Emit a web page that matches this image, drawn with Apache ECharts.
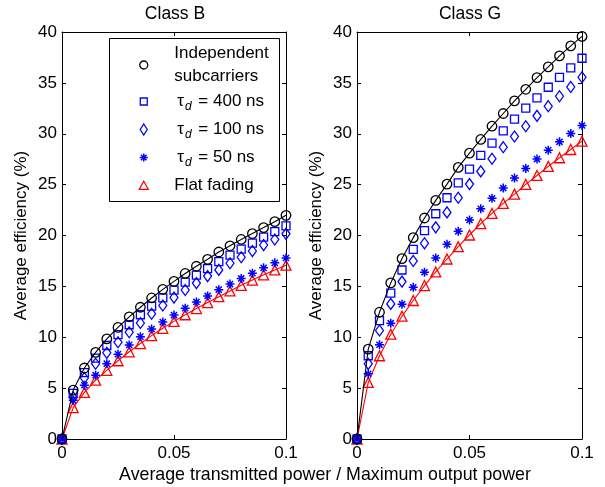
<!DOCTYPE html>
<html>
<head>
<meta charset="utf-8">
<script src="https://cdn.jsdelivr.net/npm/echarts@6/dist/echarts.min.js"></script>
<style>html,body{margin:0;padding:0;background:#fff;}#c{width:605px;height:487px;}</style>
</head>
<body>
<div id="c"></div>
<script>
const xs = [0, 0.005, 0.01, 0.015, 0.02, 0.025, 0.03, 0.035, 0.04, 0.045, 0.05, 0.055, 0.06, 0.065, 0.07, 0.075, 0.08, 0.085, 0.09, 0.095, 0.1];
const seriesNames = ['Independent subcarriers', 'τd = 400 ns', 'τd = 100 ns', 'τd = 50 ns', 'Flat fading'];
const panelTitles = ['Class B', 'Class G'];
const xLabel = 'Average transmitted power / Maximum output power';
const yLabel = 'Average efficiency (%)';

// Class B
const bIndep = [0, 4.81, 6.98, 8.51, 9.84, 10.97, 12.01, 12.95, 13.86, 14.71, 15.49, 16.27, 16.98, 17.66, 18.38, 18.99, 19.61, 20.19, 20.78, 21.36, 21.98];
const b400 = [0, 4.48, 6.53, 7.95, 9.19, 10.26, 11.23, 12.21, 13.05, 13.86, 14.64, 15.42, 16.10, 16.75, 17.44, 18.08, 18.67, 19.25, 19.84, 20.39, 20.94];
const b100 = [0, 4.09, 6.00, 7.40, 8.47, 9.51, 10.49, 11.40, 12.31, 13.12, 13.90, 14.64, 15.32, 16.01, 16.62, 17.27, 17.86, 18.47, 19.06, 19.61, 20.16];
const b50 = [0, 3.8, 5.29, 6.27, 7.40, 8.34, 9.25, 10.06, 10.81, 11.49, 12.18, 12.86, 13.47, 14.06, 14.68, 15.23, 15.78, 16.30, 16.82, 17.31, 17.79];
const bFlat = [0, 3.08, 4.58, 5.78, 6.75, 7.69, 8.57, 9.38, 10.16, 10.88, 11.56, 12.21, 12.82, 13.41, 13.99, 14.55, 15.10, 15.62, 16.14, 16.62, 17.08];

// Class G
const gIndep = [0, 8.83, 12.46, 15.34, 17.73, 19.79, 21.72, 23.45, 25.05, 26.69, 28.09, 29.44, 30.74, 31.99, 33.23, 34.37, 35.52, 36.57, 37.65, 38.63, 39.57];
const g400 = [0, 8.18, 11.64, 14.33, 16.61, 18.64, 20.47, 22.14, 23.71, 25.18, 26.52, 27.87, 29.08, 30.29, 31.43, 32.51, 33.52, 34.57, 35.55, 36.47, 37.42];
const g100 = [0, 7.39, 10.66, 13.28, 15.47, 17.50, 19.23, 20.80, 22.27, 23.71, 25.05, 26.30, 27.54, 28.68, 29.73, 30.74, 31.76, 32.71, 33.69, 34.60, 35.55];
const g50 = [0, 6.41, 9.26, 11.38, 13.25, 14.91, 16.39, 17.79, 19.13, 20.41, 21.52, 22.63, 23.65, 24.66, 25.64, 26.59, 27.51, 28.39, 29.21, 30.02, 30.81];
const gFlat = [0, 5.56, 8.18, 10.30, 12.07, 13.61, 15.08, 16.42, 17.69, 18.90, 20.05, 21.16, 22.17, 23.16, 24.07, 25.02, 25.90, 26.79, 27.64, 28.45, 29.27];

const FONT = 'Liberation Sans, Arial, Helvetica, sans-serif';
const FS = 17;
const BLUE = '#0000ff', RED = '#ff0000', BLACK = '#000000';
const NOFILL = 'rgba(0,0,0,0)';
const ASTER = 'path://M5,0L5,10M0,5L10,5M1.6,1.6L8.4,8.4M1.6,8.4L8.4,1.6';
const DIAM = 'path://M5,0L10,7L5,14L0,7Z';

const styles = [
  {symbol: 'circle', size: 9.5, color: BLACK, line: true, bw: 1.3},
  {symbol: 'rect', size: 8, color: BLUE, line: false, bw: 1.3},
  {symbol: DIAM, size: [8, 11], color: BLUE, line: false, bw: 1.3},
  {symbol: ASTER, size: 9, color: BLUE, line: false, bw: 1.5},
  {symbol: 'triangle', size: 10, color: RED, line: true, bw: 1.3}
];

function pairs(ys) { return xs.map((x, i) => [x, ys[i]]); }

const panels = [[bIndep, b400, b100, b50, bFlat], [gIndep, g400, g100, g50, gFlat]];
const series = [];
panels.forEach((sets, g) => {
  sets.forEach((ys, k) => {
    const st = styles[k];
    series.push({
      name: seriesNames[k],
      type: 'line',
      xAxisIndex: g * 2,
      yAxisIndex: g * 2,
      data: pairs(ys),
      symbol: st.symbol,
      symbolSize: st.size,
      showSymbol: true,
      clip: false,
      z: 2 + (4 - k),
      itemStyle: {color: NOFILL, borderColor: st.color, borderWidth: st.bw},
      lineStyle: {color: st.color, width: st.line ? 1.1 : 0, opacity: st.line ? 1 : 0},
      emphasis: {disabled: true},
      silent: true
    });
  });
});

function xAx(grid, pos, labels) {
  return {
    type: 'value', gridIndex: grid, position: pos, min: 0, max: 0.1, interval: 0.05,
    axisLine: {show: true, onZero: false, lineStyle: {color: BLACK, width: 1}},
    axisTick: {show: true, inside: true, length: 4, lineStyle: {color: BLACK}},
    axisLabel: {show: labels, color: BLACK, fontFamily: FONT, fontSize: FS, margin: 6,
      formatter: v => (v === 0 ? '0' : String(+v.toFixed(3)))},
    splitLine: {show: false}
  };
}
function yAx(grid, pos, labels) {
  const a = {
    type: 'value', gridIndex: grid, position: pos, min: 0, max: 40, interval: 5,
    axisLine: {show: true, onZero: false, lineStyle: {color: BLACK, width: 1}},
    axisTick: {show: true, inside: true, length: 4, lineStyle: {color: BLACK}},
    axisLabel: {show: labels, color: BLACK, fontFamily: FONT, fontSize: FS, margin: 5},
    splitLine: {show: false}
  };
  if (labels) {
    a.name = yLabel;
    a.nameLocation = 'middle';
    a.nameGap = 32;
    a.nameTextStyle = {color: BLACK, fontFamily: FONT, fontSize: FS};
  }
  return a;
}

const legendText = {
  'Independent subcarriers': '{p|Independent}\n{p|subcarriers}',
  'τd = 400 ns': '{q|τ}{s|d}{a| = 400 ns}',
  'τd = 100 ns': '{q|τ}{s|d}{a| = 100 ns}',
  'τd = 50 ns': '{q|τ}{s|d}{a| = 50 ns}',
  'Flat fading': '{p|Flat fading}'
};
// legend icons drawn in an 11x11 box (trailing moves fix the box size)
const legendIcons = [
  'path://M1.5,5.5A4,4,0,1,1,9.5,5.5A4,4,0,1,1,1.5,5.5ZM0,0M11,11',
  'path://M2,2L9,2L9,9L2,9ZM0,0M11,11',
  'path://M5.5,0L9,5.5L5.5,11L2,5.5ZM0,0M11,11',
  'path://M5.5,1.5L5.5,9.5M1.5,5.5L9.5,5.5M2.7,2.7L8.3,8.3M2.7,8.3L8.3,2.7M0,0M11,11',
  'path://M5.5,1.3L10,9.3L1,9.3ZM0,0M11,11'
];
const legendIconBW = [1.3, 1.3, 1.3, 1.5, 1.3];

const option = {
  animation: false,
  backgroundColor: '#ffffff',
  textStyle: {fontFamily: FONT},
  grid: [
    {left: 62, top: 32, width: 224, height: 407, containLabel: false},
    {left: 357, top: 32, width: 225, height: 407, containLabel: false}
  ],
  xAxis: [xAx(0, 'bottom', true), xAx(0, 'top', false), xAx(1, 'bottom', true), xAx(1, 'top', false)],
  yAxis: [yAx(0, 'left', true), yAx(0, 'right', false), yAx(1, 'left', true), yAx(1, 'right', false)],
  legend: {
    show: true,
    orient: 'vertical',
    left: 137.5,
    top: 45,
    itemWidth: 11,
    itemHeight: 11,
    itemGap: 8,
    padding: 0,
    selectedMode: false,
    symbolKeepAspect: true,
    z: 10,
    data: seriesNames.map((n, i) => ({
      name: n, icon: legendIcons[i],
      itemStyle: {color: NOFILL, borderColor: styles[i].color, borderWidth: legendIconBW[i]}
    })),
    formatter: n => legendText[n],
    textStyle: {
      color: BLACK, fontFamily: FONT, fontSize: FS,
      rich: {
        a: {fontFamily: FONT, fontSize: FS, lineHeight: 23, color: BLACK},
        p: {fontFamily: FONT, fontSize: FS, lineHeight: 23, color: BLACK, padding: [0, 0, 0, 20]},
        q: {fontFamily: FONT, fontSize: FS, lineHeight: 23, color: BLACK, padding: [0, 0, 0, 23]},
        s: {fontFamily: FONT, fontSize: 12, fontStyle: 'italic', lineHeight: 12, verticalAlign: 'bottom', color: BLACK, padding: [0, 2, 0, 1]}
      }
    }
  },
  graphic: [
    {type: 'rect', z: 3, shape: {x: 109.5, y: 38.5, width: 170, height: 163},
      style: {fill: '#ffffff', stroke: BLACK, lineWidth: 1}, silent: true},
    {type: 'text', z: 3, x: 175, y: 14, style: {text: panelTitles[0], align: 'center', verticalAlign: 'middle', font: '17.5px ' + FONT, fill: BLACK}},
    {type: 'text', z: 3, x: 470, y: 14, style: {text: panelTitles[1], align: 'center', verticalAlign: 'middle', font: '17.5px ' + FONT, fill: BLACK}},
    {type: 'text', z: 3, x: 325, y: 475, style: {text: xLabel, align: 'center', verticalAlign: 'middle', font: '17.8px ' + FONT, fill: BLACK}}
  ],
  series: series
};

const chart = echarts.init(document.getElementById('c'), null, {renderer: 'canvas'});
chart.setOption(option);
</script>
</body>
</html>
